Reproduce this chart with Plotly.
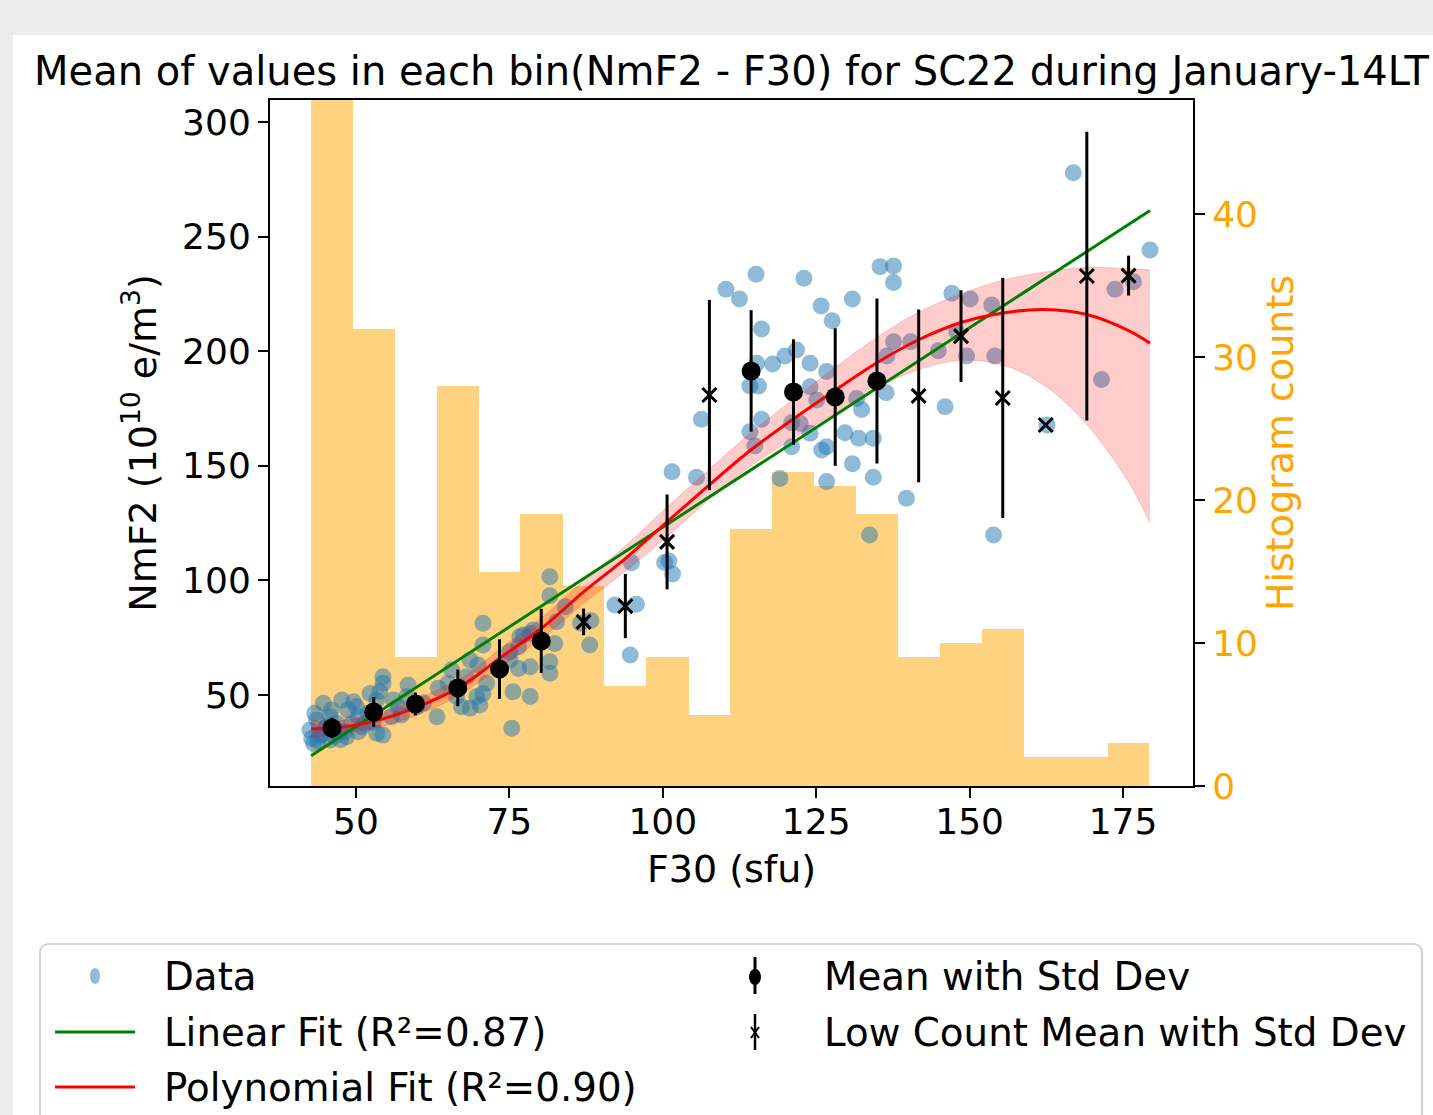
import plotly.graph_objects as go

# ---------------- data ----------------
data_f30 = [
    42.5, 43.1, 43.6, 43.3, 44.1, 44.7, 45.0, 45.8, 45.8, 46.0, 46.9, 47.4, 47.7, 48.5, 48.7, 49.3,
    42.8, 43.8, 44.6, 46.5, 47.5, 45.3, 48.2,
    49.6, 50.1, 50.4, 50.4, 51.5, 52.0, 52.3, 53.4, 53.4, 53.9, 54.4, 54.4, 54.4, 55.8, 56.1, 51.0, 52.8,
    56.9, 57.4, 58.3, 58.5, 59.9, 61.0,
    63.2, 63.4, 65.0, 65.6, 66.4, 67.2, 68.0, 68.6, 68.6, 69.7, 69.9,
    70.2, 70.7, 70.7, 70.7, 71.3, 75.1, 75.1, 75.4, 75.6, 76.5, 76.5, 76.7,
    77.3, 78.4, 78.4, 78.4, 78.9, 81.6, 81.6, 81.6, 81.6, 82.4, 82.7,
    84.1, 86.6, 88.1, 88.3,
    92.2, 94.7, 94.9, 95.7,
    100.3, 101.0, 101.6, 101.5,
    105.5, 106.3, 110.3,
    112.5, 115.2, 116.1, 114.2, 115.6, 115.3, 117.9, 116.1, 114.2, 115.0,
    123.0, 119.9, 121.8, 124.0, 124.0, 121.0, 122.4, 124.0, 121.0, 119.1,
    125.8, 127.6, 130.9, 126.7, 125.1, 125.9, 126.7, 129.7, 130.9, 126.7,
    131.9, 132.4, 131.6, 134.3, 136.4, 137.6, 136.5, 134.3, 133.7, 135.4, 137.6, 137.6,
    140.4, 139.7, 144.9,
    147.1, 150.1, 147.9, 149.5, 146.0,
    153.6, 154.1, 153.9,
    162.6,
    166.9, 171.5,
    173.7, 176.7, 179.4,
]
data_nmf2 = [
    34.7, 28.9, 39.1, 42.0, 32.5, 46.4, 35.5, 30.4, 40.5, 43.5, 37.6, 34.0, 47.8, 31.8, 43.5, 37.6,
    31.0, 30.0, 33.0, 32.0, 30.5, 36.5, 34.0,
    47.1, 44.9, 40.5, 34.0, 37.6, 42.0, 50.7, 47.8, 33.3, 51.4, 58.0, 55.1, 32.5, 40.5, 47.8, 36.0, 38.0,
    44.9, 41.3, 49.3, 54.4, 44.9, 46.5,
    40.5, 52.9, 55.1, 60.9, 49.3, 44.9, 58.0, 44.2, 65.3, 49.3, 63.1,
    45.6, 81.3, 71.8, 50.7, 55.1, 68.9, 65.3, 35.5, 51.4, 71.1, 61.6, 75.4,
    76.2, 62.3, 49.3, 76.9, 78.4, 101.6, 93.3, 64.5, 59.5, 72.5, 82.0,
    88.5, 81.3, 71.8, 82.5,
    89.3, 67.5, 107.7, 89.6,
    107.8, 108.5, 102.8, 147.4,
    145.0, 170.3, 227.0,
    222.8, 233.6, 209.7, 184.8, 184.8, 194.7, 194.4, 170.3, 164.9, 158.6,
    231.8, 197.9, 200.5, 194.7, 184.5, 168.8, 168.5, 164.2, 158.3, 144.5,
    219.7, 213.3, 222.8, 191.1, 178.7, 156.9, 158.3, 164.4, 150.9, 143.1,
    162.0, 174.6, 179.4, 162.0, 181.9, 204.1, 197.9, 145.0, 119.8, 236.9, 237.2, 230.0,
    204.1, 135.8, 200.2,
    225.3, 222.8, 208.5, 197.9, 175.8,
    220.2, 197.9, 119.8,
    167.8,
    277.9, 187.7,
    227.0, 230.3, 244.2,
]

# bins with enough points: mean and standard deviation
mean_x = [46.1, 52.9, 59.7, 66.6, 73.4, 80.2, 114.4, 121.3, 128.1, 134.9]
mean_y = [35.6, 42.6, 46.1, 53.1, 61.3, 73.6, 191.4, 182.2, 180.0, 187.0]
mean_sd = [4.5, 6.5, 5.0, 8.0, 13.0, 14.0, 26.5, 23.0, 30.0, 36.0]

# bins with few points
lc_x = [87.1, 93.9, 100.7, 107.6, 141.7, 148.6, 155.4, 162.4, 169.1, 175.9]
lc_y = [81.9, 88.8, 116.8, 180.9, 180.5, 206.6, 179.6, 167.8, 232.8, 233.0]
lc_sd = [5.8, 14.0, 20.7, 41.5, 37.7, 20.0, 52.4, 0.0, 63.0, 8.7]

# linear fit (end points)
lin_x = [42.7, 179.4]
lin_y = [23.5, 261.4]

# polynomial fit curve and its band
poly_x = [42.7, 46.1, 52.9, 59.7, 66.6, 70.2, 73.4, 80.2, 87.1, 93.9, 100.7, 107.6,
          114.4, 121.3, 128.1, 134.9, 141.7, 148.6, 155.4, 162.2, 169.1, 175.9, 179.4]
poly_y = [35.3, 35.5, 38.5, 44.5, 53.0, 59.5, 66.0, 79.0, 95.0, 109.5, 125.5, 141.7,
          157.0, 170.5, 183.0, 195.0, 205.0, 212.5, 216.7, 218.2, 216.0, 209.0, 203.5]
band_lo = [31.5, 32.5, 35.5, 41.0, 49.5, 56.0, 62.0, 74.5, 90.0, 104.0, 119.0, 135.5,
           150.0, 162.0, 173.0, 184.0, 192.0, 196.0, 194.0, 185.0, 168.0, 143.0, 125.0]
band_hi = [39.0, 38.5, 41.5, 48.0, 56.5, 63.0, 70.0, 83.5, 100.0, 115.0, 132.0, 148.5,
           164.5, 179.0, 193.0, 206.0, 217.0, 225.0, 231.0, 234.5, 236.5, 236.0, 235.5]

# histogram
hist_edges = [42.7, 49.5, 56.3, 63.2, 70.0, 76.8, 83.7, 90.5, 97.3, 104.2, 111.0,
              117.8, 124.7, 131.5, 138.3, 145.2, 152.0, 158.8, 165.7, 172.5, 179.3]
hist_counts = [60, 32, 9, 28, 15, 19, 14, 7, 9, 5, 18, 22, 21, 19, 9, 10, 11, 2, 2, 3]

x_ticks = [50, 75, 100, 125, 150, 175]
y_ticks = [50, 100, 150, 200, 250, 300]
count_ticks = [0, 10, 20, 30, 40]

title_text = "Mean of values in each bin(NmF2 - F30) for SC22 during January-14LT"
legend_labels = ["Data", "Linear Fit (R²=0.87)", "Polynomial Fit (R²=0.90)",
                 "Mean with Std Dev", "Low Count Mean with Std Dev"]

# ---------------- figure ----------------
W, H = 1433, 1115
L, R, T, B = 270, 1193, 100, 786
FONT = "DejaVu Sans"


def xp(px):
    return (px - L) / (R - L)


def yp(py):
    return (B - py) / (B - T)


centers = [(a + b) / 2 for a, b in zip(hist_edges[:-1], hist_edges[1:])]
widths = [b - a for a, b in zip(hist_edges[:-1], hist_edges[1:])]

fig = go.Figure()
fig.add_trace(go.Bar(x=centers, y=hist_counts, width=widths, yaxis="y",
                     marker=dict(color="rgba(255,165,0,0.5)", line=dict(width=0)),
                     showlegend=False, hoverinfo="skip"))
fig.add_trace(go.Scatter(x=data_f30, y=data_nmf2, mode="markers", yaxis="y2",
                         marker=dict(size=17, color="rgba(31,119,180,0.5)", line=dict(width=0)),
                         name=legend_labels[0]))
fig.add_trace(go.Scatter(x=poly_x, y=band_lo, mode="lines", yaxis="y2",
                         line=dict(width=1, color="rgba(255,0,0,0.2)", shape="spline"),
                         showlegend=False, hoverinfo="skip"))
fig.add_trace(go.Scatter(x=poly_x, y=band_hi, mode="lines", yaxis="y2", fill="tonexty",
                         fillcolor="rgba(255,0,0,0.2)",
                         line=dict(width=1, color="rgba(255,0,0,0.2)", shape="spline"),
                         showlegend=False, hoverinfo="skip"))
fig.add_trace(go.Scatter(x=lin_x, y=lin_y, mode="lines", yaxis="y2",
                         line=dict(color="green", width=3), name=legend_labels[1]))
fig.add_trace(go.Scatter(x=poly_x, y=poly_y, mode="lines", yaxis="y2",
                         line=dict(color="red", width=3, shape="spline"), name=legend_labels[2]))
fig.add_trace(go.Scatter(x=mean_x, y=mean_y, mode="markers", yaxis="y2",
                         marker=dict(size=19, color="black"),
                         error_y=dict(type="data", array=mean_sd, color="black", thickness=3, width=0),
                         name=legend_labels[3]))
fig.add_trace(go.Scatter(x=lc_x, y=lc_y, mode="markers", yaxis="y2",
                         marker=dict(symbol="x-thin", size=14, color="black",
                                     line=dict(width=3, color="black")),
                         error_y=dict(type="data", array=lc_sd, color="black", thickness=3, width=0),
                         name=legend_labels[4]))

axis_common = dict(ticks="outside", ticklen=10, tickwidth=2, tickcolor="black",
                   showline=True, linecolor="black", linewidth=2, showgrid=False,
                   zeroline=False, automargin=False)

shapes = []
annotations = []

# white figure area over grey page
shapes.append(dict(type="rect", xref="paper", yref="paper", layer="below",
                   x0=xp(13), x1=xp(1440), y0=yp(1120), y1=yp(35),
                   fillcolor="white", line=dict(width=0)))

# legend frame (rounded top corners)
lx0, lx1, ly0, ly1 = xp(40), xp(1422), yp(944), yp(1130)
rx, ry = 9 / (R - L), 9 / (B - T)
frame_path = (f"M {lx0},{ly1} L {lx0},{ly0 - ry} Q {lx0},{ly0} {lx0 + rx},{ly0} "
              f"L {lx1 - rx},{ly0} Q {lx1},{ly0} {lx1},{ly0 - ry} L {lx1},{ly1}")
shapes.append(dict(type="path", xref="paper", yref="paper", path=frame_path,
                   fillcolor="rgba(255,255,255,0.9)", line=dict(color="#d4d4d4", width=2)))

rows = [976, 1032, 1087]
# Data symbol
shapes.append(dict(type="circle", xref="paper", yref="paper",
                   x0=xp(90), x1=xp(100), y0=yp(rows[0] + 8), y1=yp(rows[0] - 8),
                   fillcolor="rgba(31,119,180,0.5)", line=dict(width=0)))
# line symbols
shapes.append(dict(type="line", xref="paper", yref="paper", x0=xp(55), x1=xp(135),
                   y0=yp(rows[1]), y1=yp(rows[1]), line=dict(color="green", width=3)))
shapes.append(dict(type="line", xref="paper", yref="paper", x0=xp(55), x1=xp(135),
                   y0=yp(rows[2]), y1=yp(rows[2]), line=dict(color="red", width=3)))
# mean with std symbol
shapes.append(dict(type="line", xref="paper", yref="paper", x0=xp(755), x1=xp(755),
                   y0=yp(rows[0] - 19), y1=yp(rows[0] + 18), line=dict(color="black", width=3)))
shapes.append(dict(type="circle", xref="paper", yref="paper",
                   x0=xp(749), x1=xp(761), y0=yp(rows[0] + 9), y1=yp(rows[0] - 7),
                   fillcolor="black", line=dict(width=0)))
# low count symbol
shapes.append(dict(type="line", xref="paper", yref="paper", x0=xp(755), x1=xp(755),
                   y0=yp(rows[1] - 18), y1=yp(rows[1] + 18), line=dict(color="black", width=2.5)))
shapes.append(dict(type="line", xref="paper", yref="paper", x0=xp(751), x1=xp(759),
                   y0=yp(rows[1] - 5), y1=yp(rows[1] + 6), line=dict(color="black", width=2)))
shapes.append(dict(type="line", xref="paper", yref="paper", x0=xp(751), x1=xp(759),
                   y0=yp(rows[1] + 6), y1=yp(rows[1] - 5), line=dict(color="black", width=2)))

label_pos = [(162, rows[0]), (162, rows[1]), (162, rows[2]), (822, rows[0]), (822, rows[1])]
for text, (px, py) in zip(legend_labels, label_pos):
    annotations.append(dict(text=text, xref="paper", yref="paper", x=xp(px), y=yp(py),
                            xanchor="left", yanchor="middle", showarrow=False,
                            font=dict(family=FONT, size=38.8, color="black")))

fig.update_layout(
    width=W, height=H,
    margin=dict(l=L, r=W - R, t=T, b=H - B, pad=0),
    paper_bgcolor="#ececec", plot_bgcolor="white",
    font=dict(family=FONT, size=36, color="black"),
    showlegend=False,
    bargap=0,
    title=dict(text=title_text, x=0.5, xref="paper", xanchor="center",
               y=1 - 71 / H, yref="container", yanchor="middle",
               font=dict(family=FONT, size=40, color="black")),
    xaxis=dict(range=[36, 186.4], tickvals=x_ticks, mirror=True,
               tickfont=dict(size=36, color="black"), ticklabelstandoff=-7,
               title=dict(text="F30 (sfu)", font=dict(size=38, color="black"), standoff=14),
               **axis_common),
    yaxis=dict(side="right", range=[0, 48], tickvals=count_ticks,
               tickfont=dict(size=36, color="orange"),
               title=dict(text="Histogram counts", font=dict(size=38, color="orange"), standoff=8),
               **axis_common),
    yaxis2=dict(overlaying="y", side="left", range=[10.3, 309.6], tickvals=y_ticks,
                tickfont=dict(size=36, color="black"),
                title=dict(text="NmF2 (10<sup>10</sup> e/m<sup>3</sup>)",
                           font=dict(size=38, color="black"), standoff=14),
                **axis_common),
    shapes=shapes,
    annotations=annotations,
)

page_fix = ("document.body.style.margin='0';document.body.style.padding='0';"
            "document.body.style.overflow='hidden';"
            "document.body.style.background='#ececec';")
fig.write_html("out.html", post_script=page_fix, config={"displayModeBar": False})
